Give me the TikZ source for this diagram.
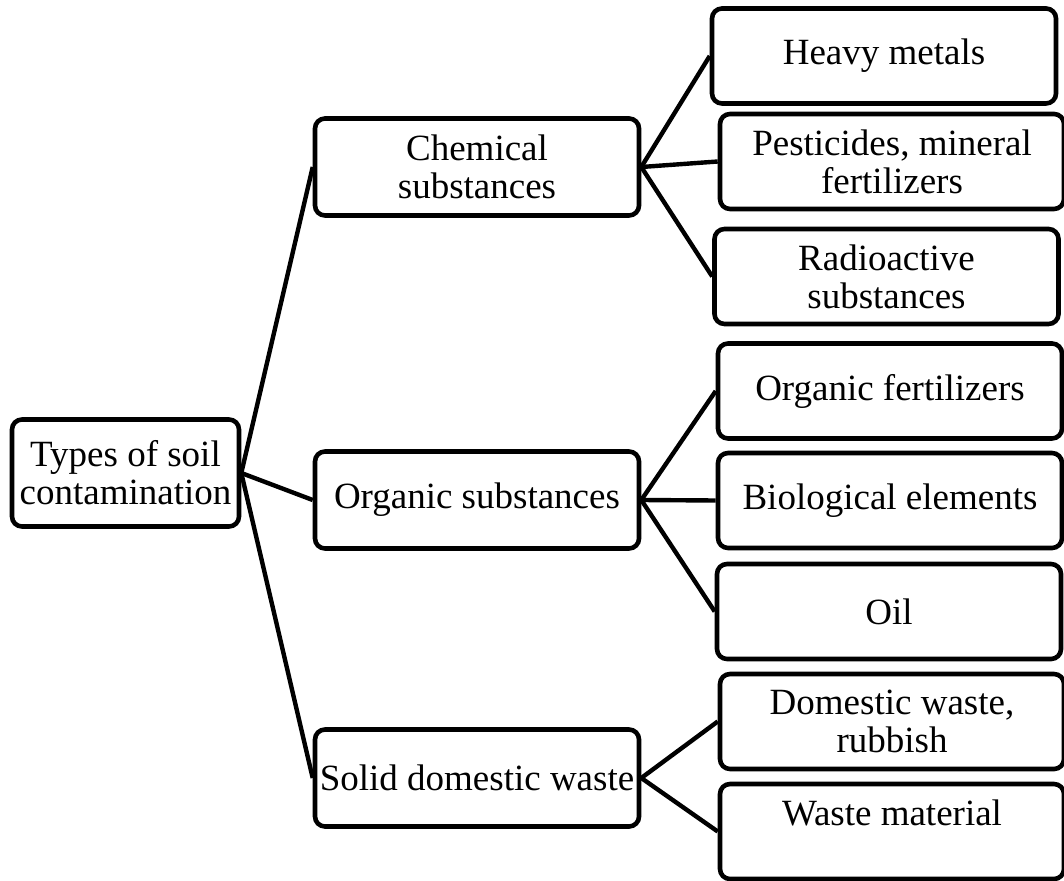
\documentclass[tikz,border=0pt]{standalone}
\usepackage{fontspec}
\setmainfont{Liberation Serif}
\usepackage{tikz}

\begin{document}
\begin{tikzpicture}[
    x=0.5pt, y=-0.5pt,
    box/.style={draw=black, line width=2.3pt, rounded corners=5pt, align=center,
      inner sep=0pt, font=\fontsize{18.5}{19}\selectfont},
    root/.style={box, minimum width=113.5pt, minimum height=53.5pt},
    group/.style={box, minimum width=162pt, minimum height=48.5pt},
    kind/.style={box, minimum width=172pt, minimum height=47.5pt},
    link/.style={line width=2.2pt}
  ]
  \useasboundingbox (0,0) rectangle (1064,881);

  % Root
  \node[root] (T) at (125.5,473) {Types of soil\\contamination};

  % Groups
  \node[group] (G1) at (477,167) {Chemical\\substances};
  \node[group] (G2) at (477,500) {Organic substances};
  \node[group] (G3) at (477,778) {Solid domestic waste};

  % Kinds
  \node[kind] (K1) at (884,56) {Heavy metals};
  \node[kind] (K2) at (892,161.5) {Pesticides, mineral\\fertilizers};
  \node[kind] (K3) at (886.5,276.5) {Radioactive\\substances};
  \node[kind] (K4) at (890,391) {Organic fertilizers};
  \node[kind] (K5) at (890,500.5) {Biological elements};
  \node[kind] (K6) at (889,611.5) {Oil};
  \node[kind] (K7) at (892,721.5) {Domestic waste,\\rubbish};
  \node[kind] (K8) at (892,831.5) {Waste material\\\mbox{}};

  % Connections Root -> Groups
  \foreach \j in {1,2,3}
    \draw[link] (T.east) -- (G\j.west);

  % Connections Groups -> Kinds
  \foreach \j in {1,2,3}
    \draw[link] (G1.east) -- (K\j.west);
  \foreach \j in {4,5,6}
    \draw[link] (G2.east) -- (K\j.west);
  \foreach \j in {7,8}
    \draw[link] (G3.east) -- (K\j.west);

\end{tikzpicture}
\end{document}
